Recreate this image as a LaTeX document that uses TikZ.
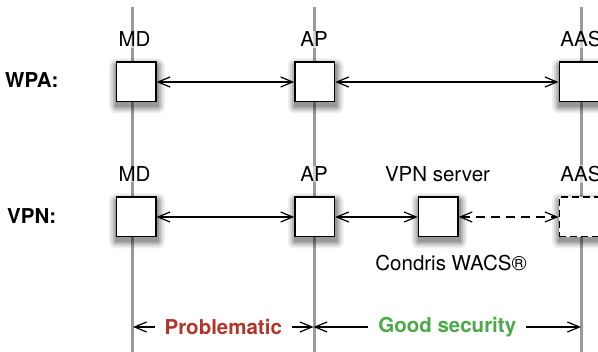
\documentclass[tikz,border=0pt]{standalone}
\usepackage{fontspec}
\setmainfont{TeX Gyre Heros}
\usetikzlibrary{arrows.meta,positioning,calc}
\definecolor{lifeline}{HTML}{9A9A9A}
\definecolor{badred}{HTML}{B0362B}
\definecolor{goodgreen}{HTML}{4DA84A}

% soft shadow under a box: stacked translucent copies, widest first
\newcommand{\softshadow}[2]{%
  \foreach \w/\o in {14/0.07, 10/0.10, 6/0.13, 2/0.18}
    \fill[black, opacity=\o, rounded corners=\w*0.5pt]
      ($(#1,#2)+(-19.8-\w*0.5,-16.5-\w*0.5)$) rectangle
      ($(#1,#2)+(21.8+\w*0.5,24.5+\w*0.5)$);}

\begin{document}
\begin{tikzpicture}[
  x=1pt, y=-1pt,
  font=\fontsize{20.5}{24}\selectfont,
  life/.style={draw=lifeline, line width=3pt},
  box/.style={draw=black, line width=1.4pt, fill=white,
              minimum size=39.6pt, inner sep=0pt},
  ghost/.style={box, dash pattern=on 7pt off 4pt},
  lbl/.style={anchor=base, fill=white, fill opacity=0.6, text opacity=1,
              inner sep=1pt},
  rowlbl/.style={anchor=base west, inner sep=0pt,
                 font=\fontsize{20.5}{24}\selectfont\bfseries},
  ar/.style={{Straight Barb[length=12pt,width=10pt]}-{Straight Barb[length=12pt,width=10pt]},
             line width=1.2pt},
  verdict/.style={fill=white, inner xsep=10pt, inner ysep=2pt,
                  font=\fontsize{20.5}{24}\selectfont\bfseries}
]
\clip (0,0) rectangle (598,352);

% lifelines
\coordinate (mdtop) at (132.5,7);  \coordinate (mdend) at (132.5,352);
\coordinate (aptop) at (314,7);    \coordinate (apend) at (314,352);
\coordinate (aastop) at (581,7);   \coordinate (aasend) at (581,352);
\draw[life] (mdtop) -- (mdend);
\draw[life] (aptop) -- (apend);
\draw[life] (aastop) -- (aasend);

% shadows under the boxes
\softshadow{136}{82}   \softshadow{314.7}{82}   \softshadow{579}{82}
\softshadow{136}{217}  \softshadow{314.7}{217}  \softshadow{438.2}{217}
\softshadow{579}{217}

% WPA row
\node[rowlbl] (wpa) at (5,87.5) {WPA:};
\node[lbl] (mdlbl1) at (134.5,47) {MD};
\node[lbl] (aplbl1) at (314,47) {AP};
\node[lbl] (aaslbl1) at (581,47) {AAS};
\node[box] (md1) at (136,82) {};
\node[box] (ap1) at (314.7,82) {};
\node[box] (aas1) at (579,82) {};
\draw[ar] (md1) -- (ap1);
\draw[ar] (ap1) -- (aas1);

% VPN row
\node[rowlbl] (vpn) at (7,224) {VPN:};
\node[lbl] (mdlbl2) at (134.5,181.5) {MD};
\node[lbl] (aplbl2) at (314,181.5) {AP};
\node[lbl] (srvlbl) at (437.5,181.5) {VPN server};
\node[lbl] (aaslbl2) at (581,181.5) {AAS};
\node[box] (md2) at (136,217) {};
\node[box] (ap2) at (314.7,217) {};
\node[box] (srv) at (438.2,217) {};
\node[ghost] (aas2) at (579,217) {};
\node[lbl] (wacs) at (451,271) {Condris WACS®};
\draw[ar] (md2) -- (ap2);
\draw[ar] (ap2) -- (srv);
\draw[ar, dash pattern=on 9pt off 6pt] (srv) -- (aas2);

% verdict spans
\coordinate (mdlo) at (133,327);
\coordinate (aplo) at (313.5,327);
\coordinate (aaslo) at (581,327);
\draw[ar] (mdlo) -- (aplo) node[midway, verdict, text=badred] {Problematic};
\draw[ar] (aplo) -- (aaslo) node[midway, verdict, text=goodgreen] {Good security};
\end{tikzpicture}
\end{document}
